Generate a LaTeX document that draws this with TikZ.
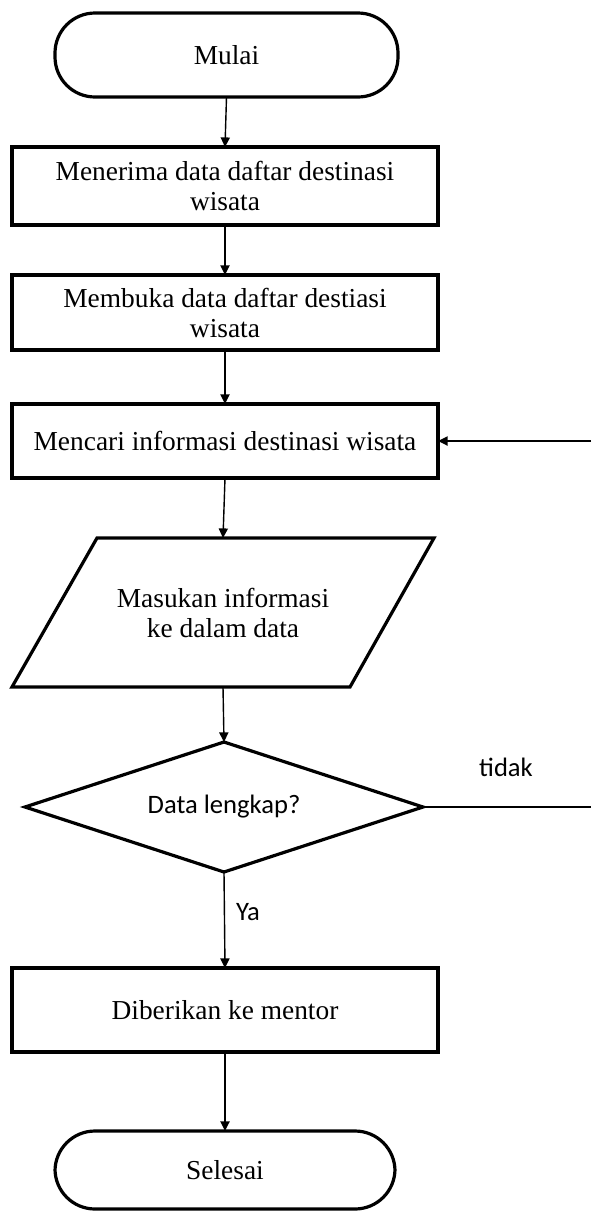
\documentclass[tikz,border=0pt]{standalone}
\usepackage{fontspec}
\setmainfont{Liberation Serif}
\newfontfamily\calibrifont{Carlito}
\usetikzlibrary{arrows.meta,shapes.geometric}
\begin{document}
\begin{tikzpicture}[x=0.5pt,y=-0.5pt,
  every node/.style={inner sep=0pt,outer sep=0pt},
  boxtxt/.style={font=\fontsize{13.7pt}{15pt}\selectfont,align=center},
  procbox/.style={boxtxt,draw,line width=1.6pt,rectangle,minimum width=213pt},
  termbox/.style={boxtxt,draw,line width=1.6pt,rectangle,rounded corners=20pt},
  iotext/.style={boxtxt,rectangle},
  ioline/.style={line width=1.6pt,line join=miter},
  decbox/.style={draw,line width=1.6pt,diamond,aspect=3,font=\calibrifont\fontsize{13.3pt}{15pt}\selectfont},
  lbl/.style={font=\calibrifont\fontsize{13.3pt}{15pt}\selectfont},
  flow/.style={line width=0.7pt,-{Triangle[length=4.8pt,width=4.6pt]}},
  plainline/.style={line width=0.6pt}]
\useasboundingbox (0,0) rectangle (591,1212);
\node[termbox,minimum width=171.5pt,minimum height=42pt] (start) at (226.5,55) {Mulai};
\node[procbox,minimum height=39pt] (b1) at (225,186) {Menerima data daftar destinasi\\wisata};
\node[procbox,minimum height=37.5pt] (b2) at (225,312.5) {Membuka data daftar destiasi\\wisata};
\node[procbox,minimum height=37pt] (b3) at (225,441) {Mencari informasi destinasi wisata};
\node[iotext,minimum width=168pt,minimum height=74.5pt] (io) at (223,612.5) {Masukan informasi\\ke dalam data};
\draw[ioline] (97,538) -- (434,538) -- (350,687) -- (12,687) -- cycle;
\node[decbox,minimum width=199pt,minimum height=65pt] (dec) at (224,807) {Data lengkap?};
\node[procbox,minimum height=42pt] (b4) at (225,1010) {Diberikan ke mentor};
\node[termbox,minimum width=170pt,minimum height=39pt] (stop) at (225,1170) {Selesai};
\coordinate (rd) at (591,807);
\coordinate (ru) at (591,441);
\node[lbl] (tidak) at (506,767) {tidak};
\node[lbl] (ya) at (248,912) {Ya};
\draw[flow] (start.south) -- (b1.north);
\draw[flow] (b1.south) -- (b2.north);
\draw[flow] (b2.south) -- (b3.north);
\draw[flow] (b3.south) -- (io.north);
\draw[flow] (io.south) -- (dec.north);
\draw[flow] (dec.south) -- (b4.north);
\draw[flow] (b4.south) -- (stop.north);
\draw[plainline] (dec.east) -- (rd);
\draw[flow] (ru) -- (b3.east);
\end{tikzpicture}
\end{document}
